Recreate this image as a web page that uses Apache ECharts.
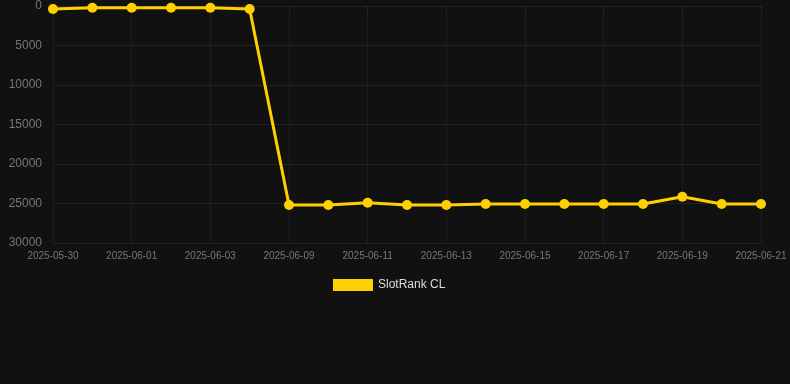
<!DOCTYPE html>
<html><head><meta charset="utf-8">
<script src="https://cdn.jsdelivr.net/npm/echarts@6/dist/echarts.min.js"></script>
<style>html,body{margin:0;padding:0;background:#111111;}#c{width:790px;height:384px;}</style>
</head><body><div id="c"></div>
<script>
var categories = ['2025-05-30','2025-05-31','2025-06-01','2025-06-02','2025-06-03','2025-06-04','2025-06-09','2025-06-10','2025-06-11','2025-06-12','2025-06-13','2025-06-14','2025-06-15','2025-06-16','2025-06-17','2025-06-18','2025-06-19','2025-06-20','2025-06-21'];
var seriesName = 'SlotRank CL';
var values = [380, 220, 220, 220, 220, 380, 25190, 25190, 24900, 25190, 25190, 25060, 25060, 25060, 25060, 25060, 24140, 25060, 25060];
var yTicks = [0, 5000, 10000, 15000, 20000, 25000, 30000];

var chart = echarts.init(document.getElementById('c'));
chart.setOption({
  backgroundColor: '#111111',
  animation: false,
  grid: {left: 53, right: 29, top: 6, bottom: 141},
  legend: {
    data: [seriesName], bottom: 88, left: 328,
    itemWidth: 40, itemHeight: 12, icon: 'rect',
    textStyle: {color: '#dddddd', fontSize: 12, fontFamily: 'Arial, Liberation Sans, sans-serif'}
  },
  xAxis: {
    type: 'category', data: categories, boundaryGap: false,
    axisLine: {show: false},
    axisTick: {show: true, interval: 1, length: 4, lineStyle: {color: '#2a2a2a'}},
    axisLabel: {interval: 1, color: '#777', fontSize: 10, margin: 8, fontFamily: 'Arial, Liberation Sans, sans-serif'},
    splitLine: {show: true, interval: 1, lineStyle: {color: '#1e1e1e', width: 1}}
  },
  yAxis: {
    type: 'value', inverse: true, min: yTicks[0], max: yTicks[yTicks.length-1], interval: 5000,
    axisLine: {show: false}, axisTick: {show: false},
    axisLabel: {color: '#777', fontSize: 12, margin: 11, fontFamily: 'Arial, Liberation Sans, sans-serif', formatter: function(v){return String(v);}},
    splitLine: {show: true, lineStyle: {color: '#222', width: 1}}
  },
  series: [{
    name: seriesName, type: 'line', data: values,
    symbol: 'circle', symbolSize: 10,
    lineStyle: {color: '#FFD000', width: 3},
    itemStyle: {color: '#FFD000'}
  }]
});
</script></body></html>
